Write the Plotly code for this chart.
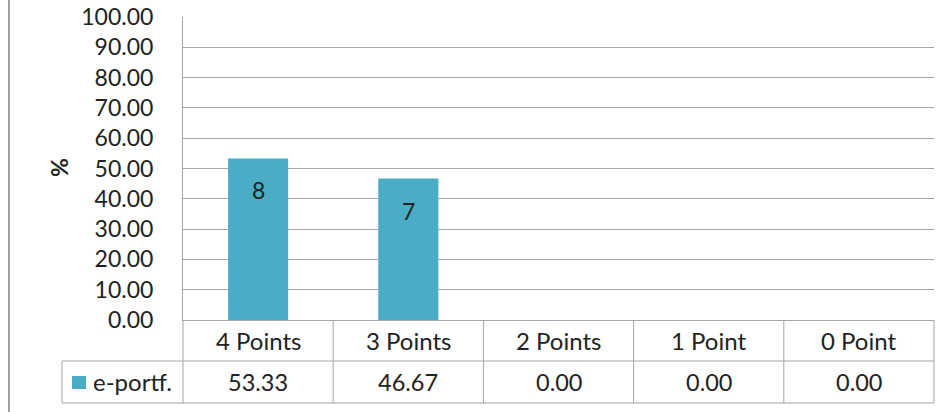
import plotly.graph_objects as go

categories = ["4 Points", "3 Points", "2 Points", "1 Point", "0 Point"]
percent = [53.33, 46.67, 0.00, 0.00, 0.00]
counts = [8, 7, 0, 0, 0]
series_name = "e-portf."
y_ticks = [0, 10, 20, 30, 40, 50, 60, 70, 80, 90, 100]

W, H = 951, 412
L, R, T, B = 183, 934, 17, 320
pw, ph = R - L, B - T

def px(x):
    return (x - L) / pw

def py(y):
    return (B - y) / ph

FONT = "Lato"
TXT = "#222222"
GRID = "#A6A6A6"
BAR = "#4BACC6"

fig = go.Figure()
fig.add_trace(go.Bar(
    x=categories, y=percent, name=series_name,
    marker=dict(color=BAR, line=dict(width=0)),
    width=0.4, showlegend=False, hoverinfo="skip",
))

annotations = []
# counts inside bars
for c, v, n in zip(categories, percent, counts):
    if n:
        annotations.append(dict(x=c, y=v, xref="x", yref="y", text=str(n),
                                showarrow=False, yanchor="top", yshift=-16,
                                font=dict(family=FONT, size=23, color=TXT)))
# data table: categories row and values row
for c, v in zip(categories, percent):
    annotations.append(dict(x=c, y=py(340), xref="x", yref="paper", text=c,
                            showarrow=False, yanchor="middle",
                            font=dict(family=FONT, size=24, color=TXT)))
    annotations.append(dict(x=c, y=py(381.5), xref="x", yref="paper", text=f"{v:.2f}",
                            showarrow=False, yanchor="middle",
                            font=dict(family=FONT, size=23.5, color=TXT)))
annotations.append(dict(x=px(91), y=py(381.5), xref="paper", yref="paper", text=series_name,
                        showarrow=False, xanchor="left", yanchor="middle",
                        font=dict(family=FONT, size=24, color=TXT)))
# axis title
annotations.append(dict(x=px(59), y=py(168), xref="paper", yref="paper", text="<b>%</b>",
                        showarrow=False, textangle=-90, xanchor="center", yanchor="middle",
                        font=dict(family=FONT, size=23, color=TXT)))

shapes = []
def line(x0, y0, x1, y1, color=GRID, width=1):
    shapes.append(dict(type="line", xref="paper", yref="paper",
                       x0=px(x0), y0=py(y0), x1=px(x1), y1=py(y1),
                       line=dict(color=color, width=width)))

# table horizontal lines
line(L, 361, R, 361)
line(62, 361, L, 361)
line(62, 403, R, 403)
# table vertical lines
line(62, 361, 62, 403)
line(L, 320, L, 403)
ncat = len(categories)
for i in range(1, ncat + 1):
    xx = L + pw * i / ncat
    line(xx, 320, xx, 403)
# outer left border of chart area
line(9, 0, 9, 412, color="#A0A0A0", width=2)
# legend swatch
shapes.append(dict(type="rect", xref="paper", yref="paper",
                   x0=px(72), x1=px(86), y0=py(389), y1=py(376),
                   fillcolor=BAR, line=dict(width=0)))

fig.update_layout(
    width=W, height=H,
    margin=dict(l=L, r=W - R, t=T, b=H - B, autoexpand=False),
    paper_bgcolor="white", plot_bgcolor="white",
    font=dict(family=FONT, color=TXT),
    bargap=0.6,
    xaxis=dict(showticklabels=False, showgrid=False, showline=True, automargin=False,
               linecolor=GRID, linewidth=1, range=[-0.5, ncat - 0.5], fixedrange=True),
    yaxis=dict(range=[0, 100], tickvals=y_ticks, tickformat=".2f", automargin=False,
               showgrid=True, gridcolor=GRID, gridwidth=1,
               showline=True, linecolor=GRID, linewidth=1, zeroline=False,
               tickfont=dict(family=FONT, size=23, color=TXT),
               ticklabelstandoff=24, fixedrange=True),
    annotations=annotations,
    shapes=shapes,
)

fig.write_html("out.html", config={"displayModeBar": False},
               post_script="document.body.style.margin='0';document.body.style.padding='0';")
